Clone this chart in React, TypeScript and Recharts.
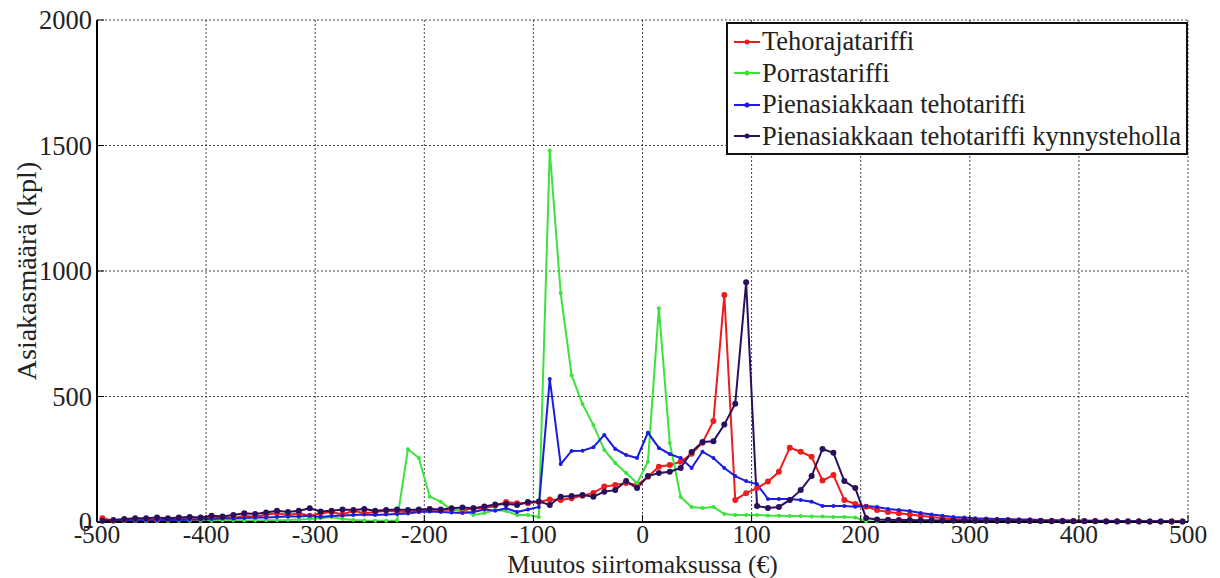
import {
  LineChart,
  Line,
  XAxis,
  YAxis,
  CartesianGrid,
  Legend,
} from "recharts";

// bin centres, 10 € steps
const muutos: number[] = Array.from({ length: 100 }, (_, i) => -495 + i * 10);

const tehoraja: number[] = [
  15, 5, 8, 10, 10, 8, 12, 15, 10, 12,
  18, 20, 15, 25, 20, 30, 35, 28, 35, 25,
  35, 40, 30, 45, 35, 40, 45, 42, 40, 45,
  50, 48, 50, 45, 55, 55, 65, 80, 75, 75,
  80, 90, 88, 95, 105, 116, 141, 147, 155, 147,
  180, 220, 227, 240, 272, 316, 402, 904, 88, 115,
  135, 161, 200, 296, 280, 260, 165, 187, 88, 72,
  61, 48, 40, 35, 30, 25, 20, 15, 12, 10,
  9, 8, 7, 7, 6, 6, 5, 5, 5, 4,
  4, 4, 3, 3, 3, 3, 2, 2, 2, 2,
];

const porras: number[] = [
  2, 2, 3, 3, 3, 4, 4, 4, 5, 5,
  5, 6, 6, 6, 6, 7, 7, 8, 10, 12,
  15, 20, 12, 8, 6, 5, 5, 6, 290, 255,
  101, 81, 48, 48, 28, 36, 48, 44, 28, 28,
  20, 1480, 912, 585, 470, 386, 287, 235, 195, 155,
  240, 852, 315, 100, 60, 56, 60, 32, 28, 28,
  28, 26, 25, 24, 24, 22, 22, 20, 20, 18,
  3, 2, 2, 2, 1, 1, 1, 1, 1, 1,
  1, 1, 1, 1, 1, 1, 0, 0, 0, 0,
  0, 0, 0, 0, 0, 0, 0, 0, 0, 0,
];

const pienasiakas: number[] = [
  3, 4, 5, 5, 6, 7, 8, 8, 9, 10,
  12, 14, 14, 16, 18, 18, 20, 22, 22, 25,
  20, 24, 26, 28, 30, 28, 30, 32, 34, 40,
  42, 40, 38, 36, 40, 50, 45, 55, 40, 50,
  60, 570, 231, 283, 284, 298, 347, 291, 267, 255,
  356, 295, 271, 255, 215, 280, 255, 215, 183, 163,
  150, 92, 92, 92, 88, 81, 64, 64, 64, 61,
  64, 60, 52, 48, 44, 36, 30, 25, 20, 18,
  15, 14, 12, 12, 10, 10, 8, 7, 7, 6,
  6, 5, 5, 4, 4, 3, 3, 3, 2, 2,
];

const kynnys: number[] = [
  5, 8, 12, 15, 15, 18, 15, 18, 20, 18,
  25, 22, 28, 35, 32, 38, 45, 40, 45, 55,
  42, 45, 50, 48, 52, 45, 48, 50, 48, 50,
  52, 50, 55, 58, 55, 62, 70, 72, 68, 80,
  82, 68, 101, 104, 108, 101, 121, 127, 163, 135,
  183, 195, 200, 215, 279, 319, 322, 388, 471, 955,
  64, 56, 60, 88, 127, 183, 291, 276, 163, 135,
  16, 10, 9, 8, 8, 7, 7, 6, 6, 6,
  5, 5, 5, 4, 4, 4, 4, 3, 3, 3,
  3, 3, 2, 2, 2, 2, 2, 2, 2, 2,
];

const xTicks = [-500, -400, -300, -200, -100, 0, 100, 200, 300, 400, 500];
const yTicks = [0, 500, 1000, 1500, 2000];

const series = [
  { key: "tehoraja", name: "Tehorajatariffi", color: "#ee1c1c", r: 3 },
  { key: "porras", name: "Porrastariffi", color: "#3de23d", r: 2 },
  { key: "pienasiakas", name: "Pienasiakkaan tehotariffi", color: "#1c1ce0", r: 2 },
  { key: "kynnys", name: "Pienasiakkaan tehotariffi kynnysteholla", color: "#2a0f5c", r: 3 },
];

const chartData = muutos.map((x, i) => ({
  x,
  tehoraja: tehoraja[i],
  porras: porras[i],
  pienasiakas: pienasiakas[i],
  kynnys: kynnys[i],
}));

const font = "Liberation Serif, DejaVu Serif, serif";
const textStyle = { fill: "#222", fontSize: 26.5, fontFamily: font };
const xTextStyle = { ...textStyle, fontSize: 25.5 };

const LegendBox = () => (
  <div
    style={{
      border: "2px solid #111",
      background: "#fff",
      width: 458,
      height: 127,
      boxSizing: "content-box",
      fontFamily: font,
      fontSize: 26.5,
      color: "#222",
      paddingTop: 2,
    }}
  >
    {series.map((s) => (
      <div
        key={s.key}
        style={{ display: "flex", alignItems: "center", height: 31.5, whiteSpace: "nowrap" }}
      >
        <svg width={30} height={10} style={{ marginLeft: 4, flexShrink: 0 }}>
          <line x1={2} y1={5} x2={28} y2={5} stroke={s.color} strokeWidth={2} />
          <circle cx={15} cy={5} r={2.5} fill={s.color} />
        </svg>
        <span>{s.name}</span>
      </div>
    ))}
  </div>
);

export default function App() {
  return (
    <div style={{ width: 1220, height: 578, background: "#fff" }}>
      <style>{`body{margin:0}`}</style>
      <LineChart
        width={1220}
        height={578}
        data={chartData}
        margin={{ top: 20, right: 32, left: 0, bottom: 0 }}
      >
        <CartesianGrid stroke="#444" strokeDasharray="2 2" />
        <XAxis
          dataKey="x"
          type="number"
          domain={[-500, 500]}
          ticks={xTicks}
          height={56}
          axisLine={{ stroke: "#000", strokeWidth: 2 }}
          tickLine={{ stroke: "#000" }}
          tickSize={-7}
          tickMargin={10}
          tick={xTextStyle}
          label={{
            value: "Muutos siirtomaksussa (€)",
            position: "insideBottom",
            offset: 5,
            style: xTextStyle,
          }}
        />
        <YAxis
          type="number"
          domain={[0, 2000]}
          ticks={yTicks}
          width={97}
          axisLine={{ stroke: "#000", strokeWidth: 2 }}
          tickLine={{ stroke: "#000" }}
          tickSize={-7}
          tickMargin={12}
          tick={textStyle}
          label={{
            value: "Asiakasmäärä (kpl)",
            angle: -90,
            position: "insideLeft",
            offset: 26,
            style: { ...textStyle, fontSize: 28, textAnchor: "middle" },
          }}
        />
        <Legend
          layout="horizontal"
          verticalAlign="middle"
          align="center"
          content={() => <LegendBox />}
          wrapperStyle={{ left: 726, top: 22, width: 462, height: 131 }}
        />
        {series.map((s) => (
          <Line
            key={s.key}
            type="linear"
            dataKey={s.key}
            name={s.name}
            stroke={s.color}
            strokeWidth={2}
            dot={{ r: s.r, fill: s.color, stroke: s.color, strokeWidth: 0 }}
            activeDot={false}
            isAnimationActive={false}
          />
        ))}
      </LineChart>
    </div>
  );
}
